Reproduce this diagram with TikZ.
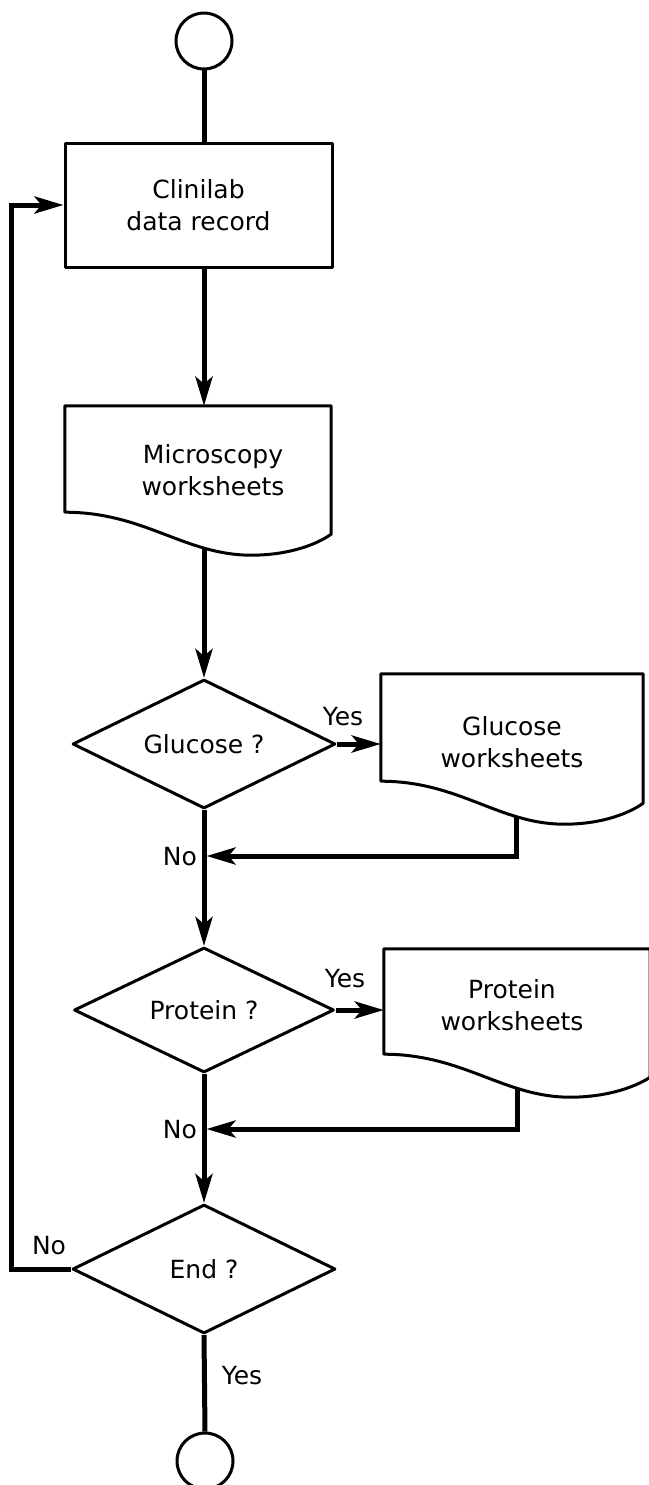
\documentclass[tikz,border=0pt]{standalone}
\usepackage{fontspec}
\setmainfont{DejaVu Sans}
\usetikzlibrary{shapes.geometric,arrows.meta,calc}
\pgfdeclarelayer{conns}
\pgfdeclarelayer{docs}
\pgfsetlayers{conns,docs,main}
\newcommand\drawdocoutline[2]{%
  \draw[shapeline,fill=white] (#1.south west) -- (#1.north west) -- (#1.north east)
    -- ($(#1.south east)+(0,#2)$)
    .. controls ($(#1.south west)!0.93!(#1.south east)+(0,35)$) and ($(#1.south west)!0.82!(#1.south east)+(0,43)$)
    .. ($(#1.south west)!0.70!(#1.south east)+(0,43)$)
    .. controls ($(#1.south west)!0.45!(#1.south east)+(0,43)$) and ($(#1.south west)!0.30!(#1.south east)+(0,0)$)
    .. (#1.south west) -- cycle;}
\begin{document}
\begin{tikzpicture}[x=1pt,y=-1pt,
  every node/.style={font=\fontsize{25}{32}\selectfont},
  shapeline/.style={line width=3pt,line join=round},
  term/.style={circle,draw,shapeline,minimum size=56pt,inner sep=0pt},
  procbox/.style={rectangle,draw,shapeline,minimum width=267pt,minimum height=124pt,align=center,inner sep=0pt},
  docbox/.style={rectangle,inner sep=0pt},
  doctext/.style={align=center,inner sep=0pt},
  decision/.style={diamond,draw,shapeline,aspect=2.04,inner sep=0pt,minimum width=263pt,minimum height=129pt},
  conn/.style={line width=5pt},
  arr/.style={-{Stealth[length=29pt,width=17pt,inset=7pt]}},
  lbl/.style={inner sep=0pt},
]
\useasboundingbox (0,0) rectangle (648,1485);

% terminals, process, decisions
\node[term] (start) at (204,41) {};
\node[procbox] (clin) at (198.5,205) {Clinilab\\data record};
\node[decision] (glu) at (204,744) {Glucose ?};
\node[decision,minimum width=260pt,minimum height=125pt] (prot) at (204,1010) {Protein ?};
\node[decision] (end) at (204,1269) {End ?};
\node[term] (stop) at (205,1461) {};

% document nodes (rectangular part) and their texts
\node[docbox,minimum width=266pt,minimum height=106pt] (micro) at (198,459) {};
\node[docbox,minimum width=262pt,minimum height=107pt] (gdoc) at (512,727.5) {};
\node[docbox,minimum width=266pt,minimum height=105pt] (pdoc) at (517,1001.5) {};

\begin{pgfonlayer}{docs}
\drawdocoutline{micro}{22}
\drawdocoutline{gdoc}{22}
\drawdocoutline{pdoc}{23}
\end{pgfonlayer}

\node[doctext] (microT) at (213,470) {Microscopy\\worksheets};
\node[doctext] (gdocT) at (512,742.5) {Glucose\\worksheets};
\node[doctext] (pdocT) at (512,1005) {Protein\\worksheets};

% join points on the main line
\coordinate (gjoin) at ($(glu.south)+(0,46)$);
\coordinate (pjoin) at ($(prot.south)+(0,55)$);

\begin{pgfonlayer}{conns}
\draw[conn] (start.south) -- (start.south |- clin.north);
\draw[conn,arr] (glu.north |- clin.south) -- (glu.north |- micro.north);
\draw[conn,arr] (glu.north |- micro.south) -- (glu.north);
\draw[conn,arr] (glu.east) -- (glu.east -| gdoc.west);
\draw[conn,arr] ($(gdoc.south)+(4,0)$) |- ([xshift=2.5pt]gjoin);
\draw[conn,arr] (glu.south) -- (prot.north);
\draw[conn,arr] (prot.east) -- (prot.east -| pdoc.west);
\draw[conn,arr] (pdoc.south) |- ([xshift=2.5pt]pjoin);
\draw[conn,arr] (prot.south) -- (end.north);
\draw[conn,arr] (end.west) -- ++(-60,0) |- (clin.west);
\draw[conn] (end.south) -- (stop.north);
\end{pgfonlayer}

% labels
\node[lbl] (gyes) at (343,717) {Yes};
\node[lbl,anchor=east] (gno) at (197,857) {No};
\node[lbl] (pyes) at (345,979) {Yes};
\node[lbl,anchor=east] (pno) at (197,1130) {No};
\node[lbl] (eno) at (49,1246) {No};
\node[lbl] (eyes) at (242,1376) {Yes};
\end{tikzpicture}
\end{document}
